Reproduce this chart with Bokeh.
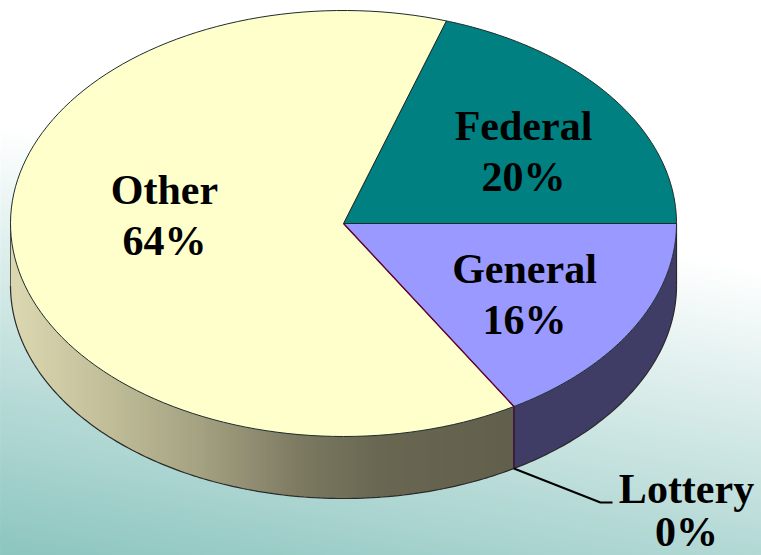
import numpy as np
from bokeh.plotting import figure
from bokeh.embed import file_html
from bokeh.resources import INLINE
from bokeh.core.properties import value

categories = ["Federal", "General", "Lottery", "Other"]
shares = [20.0, 16.45, 0.0, 63.55]
label_pct = ["20%", "16%", "0%", "64%"]
slice_colors = ["#008080", "#9999ff", "#660033", "#ffffcc"]

W, H = 761, 555
CX, CY, RX, RY, DEPTH = 343.0, 223.0, 333.0, 213.0, 62.0
FONT = "Liberation Serif"

p = figure(width=W, height=H, x_range=(0, W), y_range=(H, 0),
           output_backend="svg", toolbar_location=None,
           min_border=0, outline_line_color=None)
p.axis.visible = False
p.grid.visible = False
p.background_fill_color = "#ffffff"
p.border_fill_color = "#ffffff"

# page background: tilted white -> teal wash
c0 = np.array([255, 255, 255.0])
c1 = np.array([0x8c, 0xc5, 0xbf], dtype=float)
SLOPE, Y0, SPAN = 0.19, 125.0, 430.0
N_B = 110
bx, by, bc = [], [], []
for i in range(N_B):
    a = Y0 + SPAN * i / N_B
    bx.append([0, W, W, 0])
    by.append([a, a + SLOPE * W, H + 200, H + 200])
    t = (i + .5) / N_B
    col = c0 + (c1 - c0) * t
    bc.append("#%02x%02x%02x" % tuple(int(round(v)) for v in col))
p.patches(bx, by, fill_color=bc, line_color=None)


def ell(deg):
    r = np.radians(deg)
    return CX + RX * np.cos(r), CY - RY * np.sin(r)


def ell_x(x):
    # lower half of the ellipse at a given x
    u = np.clip((x - CX) / RX, -1, 1)
    return CY + RY * np.sqrt(1 - u * u)


# slice boundaries, clockwise, Federal ends at 3 o'clock
start = shares[0] * 3.6
angles = [start]
for s in shares:
    angles.append(angles[-1] - s * 3.6)

# rim: General is flat, Other shades from light (left) to dark (front)
gen_t = np.linspace(angles[1], angles[2], 60)
gx, gy = ell(gen_t)
p.patch(np.r_[gx, gx[::-1]], np.r_[gy, (gy + DEPTH)[::-1]],
        fill_color="#3f3d66", line_color=None)

x_right = ell(angles[3])[0]
xs = np.linspace(x_right, CX - RX, 170)
rx, ry, rc = [], [], []
shade_x = [10, 100, 200, 300, 380, 513]
shade_r = [220, 195, 165, 125, 105, 98]
shade_g = [217, 192, 162, 122, 103, 96]
shade_b = [178, 155, 130, 98, 82, 76]
# each strip reaches over the next so no seams show
for k in range(len(xs) - 1):
    x = np.linspace(xs[k], xs[min(k + 2, len(xs) - 1)], 5)
    y = ell_x(x)
    rx.append(np.r_[x, x[::-1]])
    ry.append(np.r_[y, (y + DEPTH)[::-1]])
    col = [np.interp(xs[k], shade_x, s) for s in (shade_r, shade_g, shade_b)]
    rc.append("#%02x%02x%02x" % tuple(int(round(v)) for v in col))
p.patches(rx, ry, fill_color=rc, line_color=None)

# rim outline
bt = np.linspace(0, -180, 200)
bxs, bys = ell(bt)
p.line(bxs, bys + DEPTH, line_color="#2a2a2a", line_width=1.2)
p.line([CX + RX, CX + RX], [CY, CY + DEPTH], line_color="#2a2a2a", line_width=1.2)
p.line([CX - RX, CX - RX], [CY, CY + DEPTH], line_color="#555555", line_width=1)
sx, sy = ell(angles[2])
p.line([sx, sx], [sy, sy + DEPTH], line_color="#3a1436", line_width=1.6)

# top face
for i, name in enumerate(categories):
    if shares[i] <= 0:
        continue
    tt = np.linspace(angles[i], angles[i + 1], 120)
    x, y = ell(tt)
    p.patch(np.r_[CX, x], np.r_[CY, y], fill_color=slice_colors[i],
            line_color="#1c2b2b", line_width=1)

# zero-share Lottery slice is only a hairline
lx, ly = ell(angles[2])
p.line([CX, lx], [CY, ly], line_color=slice_colors[2], line_width=1.4)

# leader line
p.line([lx, 600, 612], [ly + DEPTH, 502, 502], line_color="#000000", line_width=2)

text_x = [523, 524, 686, 164]
name_y = [125, 268, 488, 189]
pct_y = [176, 319, 531, 240]
p.text(text_x, name_y, text=categories, text_font=value(FONT), text_font_style="bold",
       text_font_size="42px", text_align="center", text_baseline="middle", text_color="#000000")
p.text(text_x, pct_y, text=label_pct, text_font=value(FONT), text_font_style="bold",
       text_font_size="42px", text_align="center", text_baseline="middle", text_color="#000000")

open("out.html", "w").write(file_html(p, INLINE))
